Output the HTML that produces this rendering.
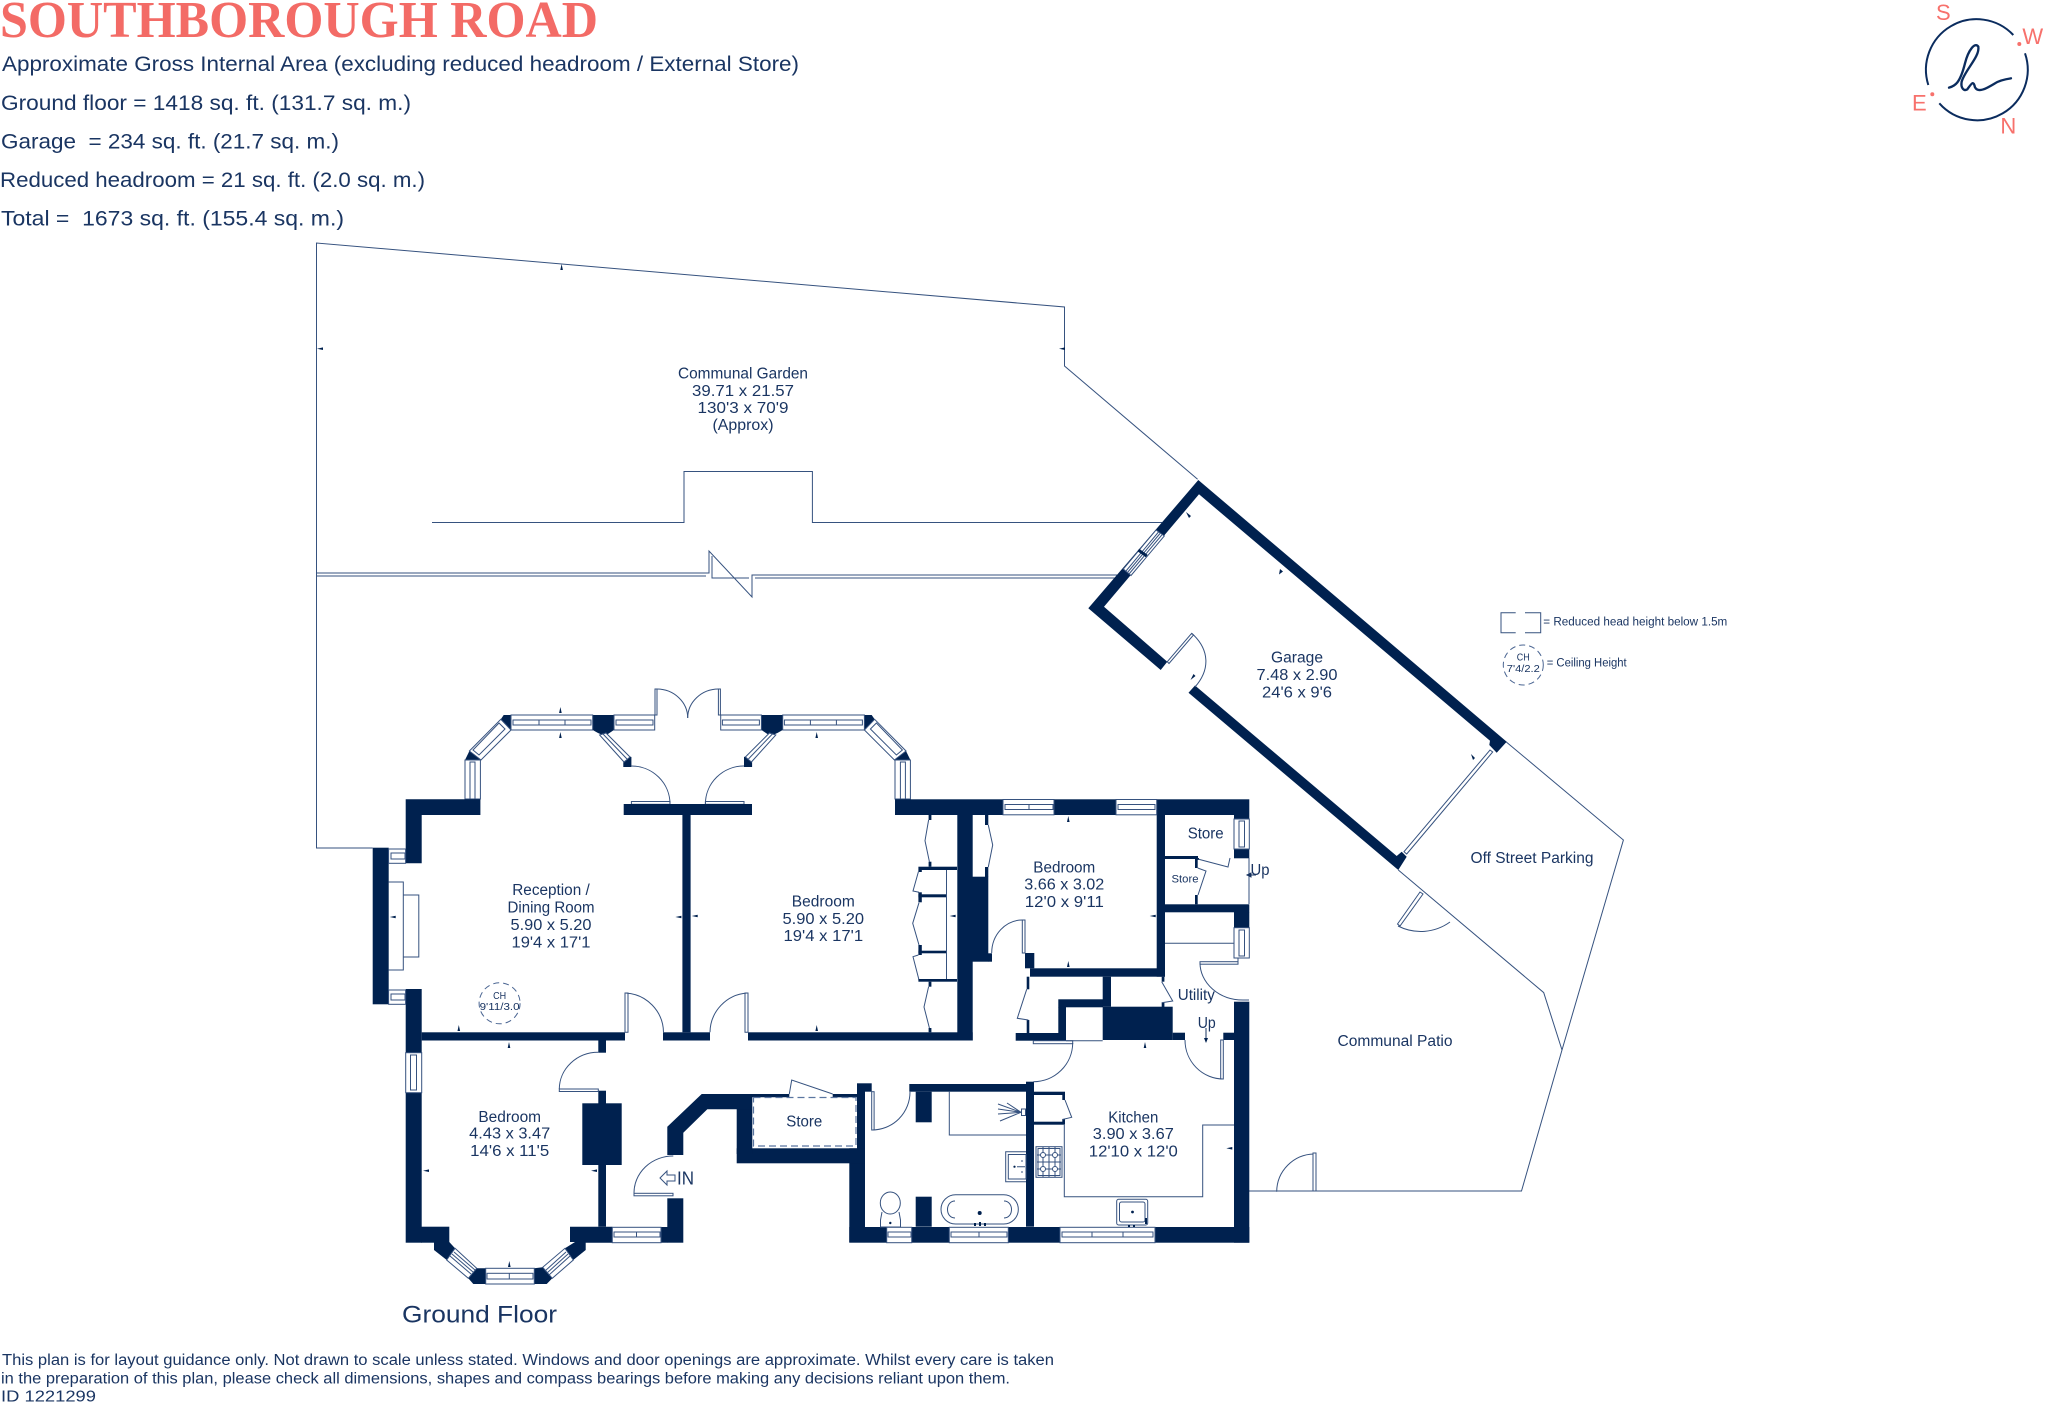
<!DOCTYPE html>
<html lang="en"><head><meta charset="utf-8"><title>Southborough Road floor plan</title>
<style>
html,body{margin:0;padding:0;background:#fff}
svg{display:block}
.w{fill:#00214f}
.l{fill:none;stroke:#36527f;stroke-width:1}
.f{fill:#fff;stroke:#36527f;stroke-width:1}
.t{fill:#00214f}
text{font-family:"Liberation Sans",sans-serif;fill:#1a3562}
.r{font-size:15.5px;text-anchor:middle}
.h{font-size:21px}
.c{font-size:22px;fill:#f7716c;text-anchor:middle}
</style></head><body>
<svg xmlns="http://www.w3.org/2000/svg" width="2048" height="1405" viewBox="0 0 2048 1405">
<defs>
<g id="bay">
<polygon class="w" points="465,760 469.4,751 481.2,760"/>
<polygon class="w" points="503.7,715 511,715 511,730 500.8,719.3"/>
<polygon class="w" points="592.7,715 613.9,715 613.9,730 605,736 598,733 592.7,730"/>
<polygon class="w" points="623.3,767 631.4,767 631.4,757 626,755 623.3,760"/>
<rect class="f" x="465" y="760" width="15.4" height="39"/><rect class="l" x="470" y="762" width="5" height="37"/>
<polygon class="f" points="469.4,751 481,760 511,730 500.8,719.3"/>
<polygon class="l" points="473,750 479,755 505,729 499,723"/>
<rect class="f" x="511" y="715" width="81.7" height="15"/><rect class="l" x="513" y="720" width="78" height="5"/><path class="l" d="M539 720v5M565 720v5"/>
<rect class="f" x="614" y="715" width="40.7" height="15"/><rect class="l" x="616" y="720" width="37" height="5"/>
<polygon class="f" points="599.6,735 606,733 630,757 624,762"/><path class="l" d="M603 734L627 759"/>
<rect class="f" x="631.4" y="801.5" width="38.6" height="2.8"/>
<path class="l" d="M631.4 766A38.6 38 0 0 1 670 804"/>
<rect class="f" x="655" y="689" width="2" height="26"/>
<path class="l" d="M657 689A31 29 0 0 1 687.7 718"/>
</g>
</defs>

<text x="0" y="37" font-size="52" font-weight="bold" style="font-family:'Liberation Serif',serif;fill:#f36b66" textLength="598" lengthAdjust="spacingAndGlyphs">SOUTHBOROUGH ROAD</text>
<text class="h" x="2" y="71" textLength="797" lengthAdjust="spacingAndGlyphs">Approximate Gross Internal Area (excluding reduced headroom / External Store)</text>
<text class="h" x="1" y="110" textLength="410" lengthAdjust="spacingAndGlyphs">Ground floor = 1418 sq. ft. (131.7 sq. m.)</text>
<text class="h" x="1" y="148.5" textLength="338" lengthAdjust="spacingAndGlyphs">Garage&#160; = 234 sq. ft. (21.7 sq. m.)</text>
<text class="h" x="0" y="187" textLength="425" lengthAdjust="spacingAndGlyphs">Reduced headroom = 21 sq. ft. (2.0 sq. m.)</text>
<text class="h" x="1" y="225.7" textLength="343" lengthAdjust="spacingAndGlyphs">Total =&#160; 1673 sq. ft. (155.4 sq. m.)</text>

<!-- logo -->
<path d="M2013.3 35A50.6 50.6 0 0 0 1928.3 85M1939.3 103.3A50.6 50.6 0 0 0 2025 53.3" fill="none" stroke="#0b2c5e" stroke-width="2"/>
<circle cx="2019.3" cy="44" r="2" fill="#f7716c"/><circle cx="1932.3" cy="94.3" r="2" fill="#f7716c"/>
<g transform="translate(1880,0) scale(.3333)"><path d="M207 263C225 258 240 250 255 190C265 150 285 125 295 140C300 170 255 210 245 245C242 262 250 275 262 268C275 250 280 240 285 262C295 280 320 265 345 250C360 240 380 237 393 235" fill="none" stroke="#0b2c5e" stroke-width="7" stroke-linecap="round"/></g>
<text class="c" x="1943.3" y="20">S</text><text class="c" x="2032.7" y="44">W</text><text class="c" x="1919.3" y="110.7">E</text><text class="c" x="2008.3" y="133.3">N</text>

<!-- site lines -->
<path class="l" d="M372.7 848H316.5V243L1064.5 307V366L1197.6 479.3"/>
<path class="l" d="M432 522.5H684V471.5H812.4V522.5H1162"/>
<path class="l" d="M316.5 573H709V551L752 597V575H1117M316.5 576H706M712 556V578H749M755 578H1115"/>
<path class="l" d="M1506 741.7L1623.4 840L1562 1050L1521.5 1191H1249M1398.3 870L1543.7 992.6L1562 1050"/>
<path class="l" d="M1276.7 1191.7A38 38 0 0 1 1314 1154"/><rect class="f" x="1313" y="1153" width="3" height="38"/>
<polygon class="f" points="1397.5,924 1420,892 1423,894 1400,926"/><path class="l" d="M1398 926A50 50 0 0 0 1450 922"/>

<!-- garage -->
<polygon class="w" points="1198.3,480 1506.7,741.7 1496.7,752.7 1489.3,745 1490,740.7 1199,494.3 1104,606.7 1167.3,661.7 1160.7,670 1088.3,608.3"/>
<polygon class="w" points="1195,685.5 1396.7,856 1401.7,851.7 1406.7,856.7 1398.3,870 1395,867.3 1188.5,692.8"/>
<polygon class="f" points="1156,530 1164.3,536 1131,575.5 1123.3,569"/>
<path class="l" d="M1158.5 532L1126 571M1160 533.5L1127.5 572.5M1161.8 535L1129 574"/>
<path d="M1138.3 550L1146.7 556" stroke="#00214f" stroke-width="3" fill="none"/>
<polygon class="f" points="1404,851.7 1490,750 1492.7,752 1406.7,854"/>
<polygon class="f" points="1167.3,661.7 1191.7,633.3 1193.5,635 1169,663.5"/>
<path class="l" d="M1192 633.5C1210 650 1210 670 1195 687"/>

<!-- bays -->
<use href="#bay"/>
<use href="#bay" transform="matrix(-1 0 0 1 1375.4 0)"/>

<!-- walls -->
<polygon class="w" points="405.7,799.3 480.4,799.3 480.4,815 421.7,815 421.7,863.3 405.7,863.3"/>
<rect class="w" x="405.7" y="989" width="16" height="63.7"/>
<rect class="w" x="372.7" y="847.7" width="16" height="156.6"/>
<rect class="w" x="421.7" y="1032.3" width="203.3" height="8.2"/>
<rect class="w" x="663" y="1032.3" width="47" height="8.2"/>
<rect class="w" x="748" y="1032.3" width="224.7" height="8.2"/>
<rect class="w" x="682.4" y="815" width="8.2" height="217.3"/>
<rect class="w" x="623.7" y="804" width="128.3" height="11"/>
<rect class="w" x="895" y="799.3" width="108" height="15.7"/>
<rect class="w" x="1054" y="799.3" width="62" height="15.7"/>
<rect class="w" x="1156.7" y="799.3" width="92.6" height="15.7"/>
<rect class="w" x="957.3" y="815" width="15.4" height="225.5"/>
<rect class="w" x="972" y="876.7" width="16.3" height="85"/><rect class="w" x="988" y="953.3" width="4" height="8.4"/>
<rect class="w" x="985" y="815" width="3.3" height="10"/><rect class="w" x="985" y="867" width="3.3" height="10"/>
<rect class="w" x="1156.7" y="815" width="8.3" height="161.7"/>
<rect class="w" x="1234" y="815" width="15.3" height="4"/><rect class="w" x="1234" y="849" width="15.3" height="9.3"/>
<rect class="w" x="1165" y="856" width="33" height="3"/><rect class="w" x="1195" y="859" width="2.7" height="9"/><rect class="w" x="1195" y="895" width="2.7" height="9.3"/>
<rect class="w" x="1196" y="858" width="3" height="2"/>
<rect class="w" x="1165" y="904.3" width="84.3" height="8"/><rect class="w" x="1234" y="912" width="15.3" height="15.7"/>
<rect class="w" x="1025" y="953" width="9.3" height="15.3"/><rect class="w" x="1030" y="968.3" width="135" height="8.4"/>
<rect class="w" x="1026.7" y="976.7" width="2.6" height="12.6"/><rect class="w" x="1026.7" y="1020" width="2.6" height="13"/>
<rect class="w" x="1015.7" y="1033" width="50.3" height="7.7"/>
<rect class="w" x="1058.3" y="999.3" width="44.7" height="8"/><rect class="w" x="1058.3" y="1007" width="7.7" height="26"/>
<rect class="w" x="1102.7" y="976.7" width="8.3" height="30"/>
<rect class="w" x="1102.7" y="1006.7" width="70" height="33.3"/>
<rect class="w" x="1172.7" y="1032.7" width="12.3" height="7.3"/>
<rect class="w" x="1223.3" y="1032.7" width="11" height="7.3"/>
<rect class="w" x="1161.7" y="976.7" width="2.7" height="5"/><rect class="w" x="1161.7" y="1002.7" width="2.7" height="4.3"/>
<rect class="w" x="1234" y="1001.7" width="15.3" height="241"/>
<rect class="w" x="1026" y="1081.7" width="8" height="145"/>
<rect class="w" x="909.3" y="1084" width="116.7" height="7.7"/>
<rect class="w" x="915.7" y="1091.7" width="16" height="30.6"/>
<rect class="w" x="915.7" y="1196.7" width="16" height="30"/>
<rect class="w" x="1034" y="1091.7" width="31" height="3.3"/><rect class="w" x="1062.3" y="1095" width="2.7" height="5"/>
<rect class="w" x="1034" y="1121.7" width="31" height="3"/><rect class="w" x="1062.3" y="1119" width="2.7" height="3"/>
<rect class="w" x="849.3" y="1227" width="37.4" height="15.7"/>
<rect class="w" x="911.7" y="1227" width="37.6" height="15.7"/>
<rect class="w" x="1008.3" y="1227" width="51.7" height="15.7"/>
<rect class="w" x="1155" y="1227" width="94.3" height="15.7"/>
<rect class="w" x="849.3" y="1148.3" width="15.7" height="94"/>
<rect class="w" x="857" y="1083.3" width="14.7" height="8.4"/><rect class="w" x="857" y="1091" width="8" height="60"/>
<rect class="w" x="832.7" y="1094" width="24.3" height="3.3"/>
<rect class="w" x="736.7" y="1148.3" width="128.3" height="15"/>
<rect class="w" x="736.7" y="1094" width="15.6" height="60"/>
<polygon class="w" points="667.3,1126.7 701.7,1094 789.3,1094 789.3,1097.3 752,1097.3 752,1109.3 707.3,1109.3 683.3,1132.7 683.3,1155 667.3,1155"/>
<rect class="w" x="667.3" y="1198.3" width="16" height="44.4"/><rect class="w" x="661" y="1227" width="6.5" height="15.7"/>
<rect class="w" x="405.7" y="1092.7" width="16" height="150"/>
<rect class="w" x="421" y="1226.7" width="28.3" height="16"/>
<polygon class="w" points="434,1242 449.3,1242 455,1248.3 446.7,1260 434,1250"/>
<polygon class="w" points="476.7,1268.3 485.7,1268.3 485.7,1284 473.3,1284 468.3,1278.3"/>
<polygon class="w" points="534.3,1268.3 542.7,1267.3 552.3,1278.3 546.7,1284 534.3,1284"/>
<polygon class="w" points="570,1226.7 612.3,1226.7 612.3,1242.7 585.7,1242.7 585.7,1250 573.3,1260 565,1248.3 575,1242 570,1242"/>
<rect class="w" x="598.3" y="1040.5" width="7.7" height="12.2"/><rect class="w" x="598.3" y="1090.7" width="7.7" height="136"/>
<rect class="w" x="582.3" y="1103.3" width="39.4" height="61.7"/>

<!-- windows -->
<rect class="f" x="388.6" y="849" width="17" height="14.3"/><rect class="l" x="391" y="853" width="14" height="6"/>
<rect class="f" x="388.6" y="990" width="17" height="14.3"/><rect class="l" x="391" y="994" width="14" height="6"/>
<rect class="f" x="405.7" y="1052.7" width="16" height="40"/><rect class="l" x="410.5" y="1055" width="6" height="35"/>
<rect class="f" x="1003" y="799.5" width="51" height="15.3"/><rect class="l" x="1005" y="804.5" width="48" height="5"/><path class="l" d="M1029 804.5v5"/>
<rect class="f" x="1116" y="799.5" width="40.7" height="15.3"/><rect class="l" x="1118" y="804.5" width="37" height="5"/>
<rect class="f" x="1234" y="819" width="15.3" height="30"/><rect class="l" x="1239" y="821" width="5.5" height="26"/>
<rect class="f" x="1234" y="927.7" width="15.3" height="30.3"/><rect class="l" x="1239" y="930" width="5.5" height="26"/>
<rect class="f" x="612.3" y="1227.3" width="48.7" height="15.4"/><rect class="l" x="614" y="1232" width="46" height="5"/><path class="l" d="M636.5 1232v5"/>
<rect class="f" x="886.7" y="1227.3" width="25" height="15.4"/><rect class="l" x="888" y="1232" width="23" height="5"/>
<rect class="f" x="949.3" y="1227.3" width="59" height="15.4"/><rect class="l" x="951" y="1232" width="56" height="5"/><path class="l" d="M979 1232v5"/>
<rect class="f" x="1060" y="1227.3" width="95" height="15.4"/><rect class="l" x="1062" y="1232" width="91" height="5"/><path class="l" d="M1092 1232v5M1123 1232v5"/>
<rect class="f" x="485.7" y="1268.3" width="48.6" height="15.7"/><rect class="l" x="487" y="1273.3" width="46" height="5.7"/><path class="l" d="M509.3 1273.3v5.7"/>
<polygon class="f" points="446.7,1260 455,1248.3 476.7,1268.3 468.3,1278.3"/><path class="l" d="M450 1256L471 1274M452 1254L473 1272M454 1252L475 1270"/>
<polygon class="f" points="552.3,1278.3 542.7,1267.3 565,1248.3 573.3,1260"/><path class="l" d="M549 1275L570 1256M547 1273L568 1254M545 1271L566 1252"/>

<!-- doors -->
<path class="f" d="M625 1032.3V993H628V1032.3z"/><path class="l" d="M625.5 993A40 40 0 0 1 663.5 1032.3"/>
<path class="f" d="M748 1032.3V993H745V1032.3z"/><path class="l" d="M747 993A40 40 0 0 0 710 1032.3"/>
<rect class="f" x="559.3" y="1089" width="39" height="2.5"/><path class="l" d="M598.3 1052.3A39 37 0 0 0 559.3 1089"/>
<rect class="f" x="634" y="1193.3" width="39" height="2.5"/><path class="l" d="M673.3 1156A39 37 0 0 0 634 1193.3"/>
<rect class="f" x="871.7" y="1091.7" width="2.4" height="38.3"/><path class="l" d="M871.7 1130A38 38 0 0 0 910 1091.7"/>
<path class="l" d="M789.3 1094L791.7 1080L832.7 1094"/>
<rect class="f" x="1022.3" y="920" width="2.7" height="33"/><path class="l" d="M1022.3 920A30.6 33 0 0 0 991.7 953"/>
<rect class="f" x="1033.3" y="1040.7" width="39.4" height="3"/><path class="l" d="M1072.7 1043A39.4 39 0 0 1 1033.3 1081.7"/>
<rect class="f" x="1220.7" y="1040" width="2.6" height="39"/><path class="l" d="M1185 1040A38.3 39 0 0 0 1223.3 1079"/>
<rect class="f" x="1200" y="961.7" width="38" height="2.5"/><path class="l" d="M1200 962.7A43 37.3 0 0 0 1243 1000"/>
<path class="l" d="M1238 964V958M1243 1000H1249M1249 858V904"/>

<!-- cupboard doors -->
<path class="l" d="M1197.7 859L1228 867L1230 858M1197.7 868L1206 871L1198 895"/>
<path class="l" d="M1165 943.3H1234"/>
<path class="l" d="M988.3 825L992.7 845L988.3 867"/>
<path class="l" d="M1026.7 989.3L1017.3 1018.3L1028.3 1020"/>
<path class="l" d="M1161.7 981.7L1172.7 1001L1161.7 1002.7"/>
<path class="l" d="M1066 1040.7H1102.7"/>
<path class="l" d="M1065 1100L1071.7 1117.3L1062.3 1119.5"/>
<path class="l" d="M1064.3 1125V1196.7H1202.7V1125H1234"/>
<path class="l" d="M949.3 1091.7V1135H1026"/>
<!-- wardrobes -->
<rect class="w" x="928.6" y="815" width="2.8" height="5"/><path class="l" d="M928.6 820L925 840.7L929.4 861.7"/>
<rect class="w" x="928.6" y="861.7" width="2.8" height="5"/><rect class="w" x="918.4" y="866.7" width="38.6" height="3.3"/>
<rect class="w" x="918.4" y="870" width="3.4" height="2"/><path class="l" d="M918.4 871.7L913 891L919 892.3"/>
<rect class="w" x="918.4" y="892.3" width="3.4" height="10"/><rect class="w" x="918.4" y="894.3" width="28" height="3"/>
<path class="l" d="M919 902.7L912.7 923.3L919 945"/>
<rect class="w" x="918.4" y="945" width="3.4" height="10"/><rect class="w" x="918.4" y="950.7" width="28" height="2.6"/>
<path class="l" d="M918.4 955L913 956.7L919 980"/>
<rect class="w" x="918.4" y="979" width="38.6" height="2.7"/>
<rect class="w" x="928.6" y="981.7" width="2.8" height="5"/><path class="l" d="M928.6 986.7L924 1007L929.4 1028"/><rect class="w" x="928.6" y="1028" width="2.8" height="4.3"/>
<path class="l" d="M946.5 870V979"/>
<!-- fireplace -->
<path class="l" d="M388.6 882H403.3V970H388.6M403.3 895H418.8V957H403.3"/>

<!-- bathroom fittings -->
<path class="l" d="M1021 1112.3L998 1104M1021 1112.3L998 1109M1021 1112.3L998 1114M1021 1112.3L1000 1121M1021 1112.3L1007 1103"/>
<rect class="l" x="1021.5" y="1109" width="4" height="6.5"/>
<path class="l" d="M1026 1151.7H1005.7V1181.7H1026M1008.3 1154.5H1026V1179H1008.3Z"/>
<circle cx="1014.5" cy="1166.7" r="1.1" class="t"/><path class="l" d="M1017 1166.7H1025M1022 1160v2M1022 1171v2"/>
<rect class="l" x="941" y="1194.7" width="77.3" height="29.3" rx="14.6"/>
<path class="l" d="M955 1201C945 1201 945 1218 955 1218M1004 1201C1014 1201 1014 1218 1004 1218"/>
<circle cx="979.7" cy="1213" r="2" class="t"/><path class="t" d="M974 1223h2v3h-2zM979 1222h2v4h-2zM984 1223h2v3h-2z"/>
<ellipse class="l" cx="890.3" cy="1203" rx="10" ry="11"/>
<path class="l" d="M882 1212L880.5 1220V1227H900.5V1220L899 1212"/><circle cx="890.3" cy="1223" r="1.2" class="t"/>
<!-- hob and sink -->
<rect class="l" x="1036" y="1146.7" width="26" height="30.6"/><rect class="l" x="1038" y="1148.5" width="22" height="27"/>
<path class="l" d="M1049 1147V1177M1037 1162H1061M1043 1147V1177M1055 1147V1177M1037 1155H1061M1037 1169H1061"/>
<circle class="f" cx="1043" cy="1155" r="2.5"/><circle class="f" cx="1055" cy="1155" r="2.5"/><circle class="f" cx="1043" cy="1169" r="2.5"/><circle class="f" cx="1055" cy="1169" r="2.5"/>
<rect class="l" x="1116.7" y="1199.3" width="31" height="25.7" rx="2"/><rect class="l" x="1119.5" y="1202" width="25.5" height="20" rx="2"/>
<circle cx="1132.5" cy="1212" r="1.4" class="t"/><path class="t" d="M1145 1218h2v6h-2zM1128 1225h2v2h-2zM1133 1225h2v2h-2z"/>
<!-- store dashed -->
<rect x="753.5" y="1097.5" width="102.5" height="48.5" fill="none" stroke="#5b76a0" stroke-width="1.2" stroke-dasharray="7 4"/>

<!-- ticks -->
<g class="t">
<path d="M560.4 707l1.3 6h-2.6zM560.4 732l1.3 6h-2.6zM816.7 732l1.3 6h-2.6zM458.8 1025l1.3 6h-2.6zM509 1042l1.3 6h-2.6zM816.7 1025l1.3 6h-2.6zM1068.3 816l1.3 6h-2.6zM1068.3 961l1.3 6h-2.6zM1145 1042l1.3 6h-2.6zM509.3 1261l1.3 6h-2.6zM561.6 264l1.3 6h-2.6z"/>
<path d="M389.7 917l6 1.3v-2.6zM675.4 917l6 1.3v-2.6zM691.7 916l6 1.3v-2.6zM949.6 916l6 1.3v-2.6zM1149.7 916l6 1.3v-2.6zM1226.3 1148.3l6 1.3v-2.6zM423 1170.7l6 1.3v-2.6zM591 1170.7l6 1.3v-2.6zM317 348.7l6 1.3v-2.6zM1059 348.7l6 1.3v-2.6z"/>
<path d="M1186 512l5 4-2 2zM1280 569l3 2.5-4 3zM1471 754l4 4-2 2zM1190.5 680l3-6 2 2z"/>
<path d="M1256 875H1247M1247 875l4-2v4z" stroke="#1a3562" stroke-width="1"/>
<path d="M1206 1028V1041" stroke="#1a3562" stroke-width="1" fill="none"/><path d="M1206 1043l-2-5h4z"/>
</g>

<!-- labels -->
<text class="r" x="743" y="378.7" textLength="130" lengthAdjust="spacingAndGlyphs">Communal Garden</text>
<text class="r" x="743" y="396" textLength="102" lengthAdjust="spacingAndGlyphs">39.71 x 21.57</text>
<text class="r" x="743" y="413" textLength="91" lengthAdjust="spacingAndGlyphs">130'3 x 70'9</text>
<text class="r" x="743" y="430" textLength="61" lengthAdjust="spacingAndGlyphs">(Approx)</text>
<text class="r" x="551" y="895" textLength="77.5" lengthAdjust="spacingAndGlyphs">Reception /</text>
<text class="r" x="551" y="912.3" textLength="87" lengthAdjust="spacingAndGlyphs">Dining Room</text>
<text class="r" x="551" y="930" textLength="81" lengthAdjust="spacingAndGlyphs">5.90 x 5.20</text>
<text class="r" x="551" y="947.3" textLength="79" lengthAdjust="spacingAndGlyphs">19'4 x 17'1</text>
<text class="r" x="823.3" y="906.7" textLength="63" lengthAdjust="spacingAndGlyphs">Bedroom</text>
<text class="r" x="823.3" y="924" textLength="81.6" lengthAdjust="spacingAndGlyphs">5.90 x 5.20</text>
<text class="r" x="823.3" y="941" textLength="79.6" lengthAdjust="spacingAndGlyphs">19'4 x 17'1</text>
<text class="r" x="1064.3" y="872.3" textLength="62" lengthAdjust="spacingAndGlyphs">Bedroom</text>
<text class="r" x="1064.3" y="889.7" textLength="80" lengthAdjust="spacingAndGlyphs">3.66 x 3.02</text>
<text class="r" x="1064.3" y="907" textLength="79" lengthAdjust="spacingAndGlyphs">12'0 x 9'11</text>
<text class="r" x="509.7" y="1122" textLength="62.7" lengthAdjust="spacingAndGlyphs">Bedroom</text>
<text class="r" x="509.7" y="1138.7" textLength="81" lengthAdjust="spacingAndGlyphs">4.43 x 3.47</text>
<text class="r" x="509.7" y="1156" textLength="79" lengthAdjust="spacingAndGlyphs">14'6 x 11'5</text>
<text class="r" x="804.3" y="1126.7" textLength="36" lengthAdjust="spacingAndGlyphs">Store</text>
<text class="r" x="1133.3" y="1122.3" textLength="50" lengthAdjust="spacingAndGlyphs">Kitchen</text>
<text class="r" x="1133.3" y="1139" textLength="81" lengthAdjust="spacingAndGlyphs">3.90 x 3.67</text>
<text class="r" x="1133.3" y="1156.7" textLength="89" lengthAdjust="spacingAndGlyphs">12'10 x 12'0</text>
<text class="r" x="1297" y="662.7" textLength="52" lengthAdjust="spacingAndGlyphs">Garage</text>
<text class="r" x="1297" y="680" textLength="81" lengthAdjust="spacingAndGlyphs">7.48 x 2.90</text>
<text class="r" x="1297" y="697.3" textLength="70" lengthAdjust="spacingAndGlyphs">24'6 x 9'6</text>
<text class="r" x="1532" y="863" textLength="123" lengthAdjust="spacingAndGlyphs">Off Street Parking</text>
<text class="r" x="1395" y="1046" textLength="115" lengthAdjust="spacingAndGlyphs">Communal Patio</text>
<text class="r" x="1205.7" y="838.3" textLength="36" lengthAdjust="spacingAndGlyphs">Store</text>
<text class="r" x="1185" y="882.7" textLength="27" lengthAdjust="spacingAndGlyphs" style="font-size:11px">Store</text>
<text class="r" x="1260" y="875" textLength="19" lengthAdjust="spacingAndGlyphs">Up</text>
<text class="r" x="1206.7" y="1028" textLength="18" lengthAdjust="spacingAndGlyphs">Up</text>
<text class="r" x="1196.3" y="1000" textLength="37" lengthAdjust="spacingAndGlyphs">Utility</text>
<text x="677" y="1184.3" font-size="18" textLength="17" lengthAdjust="spacingAndGlyphs">IN</text>
<path class="l" d="M660 1178L667 1171V1175H675V1181H667V1185Z"/>
<text x="402" y="1322.7" font-size="24" textLength="155" lengthAdjust="spacingAndGlyphs">Ground Floor</text>
<text x="2" y="1365" font-size="15.5" textLength="1052" lengthAdjust="spacingAndGlyphs">This plan is for layout guidance only. Not drawn to scale unless stated. Windows and door openings are approximate. Whilst every care is taken</text>
<text x="1" y="1383.3" font-size="15.5" textLength="1009" lengthAdjust="spacingAndGlyphs">in the preparation of this plan, please check all dimensions, shapes and compass bearings before making any decisions reliant upon them.</text>
<text x="1" y="1401.7" font-size="15.5" textLength="95" lengthAdjust="spacingAndGlyphs">ID 1221299</text>

<!-- CH reception -->
<circle cx="499.6" cy="1003.3" r="20.5" fill="none" stroke="#4a6592" stroke-width="1" stroke-dasharray="6 4"/>
<text x="499.6" y="999" font-size="10" text-anchor="middle" textLength="13" lengthAdjust="spacingAndGlyphs">CH</text>
<text x="499.6" y="1010" font-size="10" text-anchor="middle" textLength="40" lengthAdjust="spacingAndGlyphs">9'11/3.0</text>

<!-- legend -->
<path class="l" d="M1515.7 612.7H1501V632.7H1515.7M1525 612.7H1540.7V632.7H1525"/>
<text x="1543.3" y="625.7" font-size="11.5" textLength="184" lengthAdjust="spacingAndGlyphs">= Reduced head height below 1.5m</text>
<circle cx="1523.3" cy="665" r="20" fill="none" stroke="#4a6592" stroke-width="1" stroke-dasharray="6 4"/>
<text x="1523.3" y="660.7" font-size="10" text-anchor="middle" textLength="13" lengthAdjust="spacingAndGlyphs">CH</text>
<text x="1523.3" y="672" font-size="10" text-anchor="middle" textLength="33" lengthAdjust="spacingAndGlyphs">7'4/2.2</text>
<text x="1546.7" y="666.7" font-size="11.5" textLength="80" lengthAdjust="spacingAndGlyphs">= Ceiling Height</text>
</svg>
</body></html>
